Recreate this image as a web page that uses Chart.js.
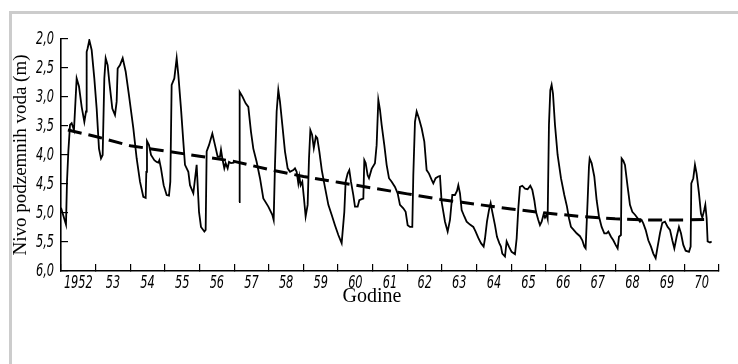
<!DOCTYPE html>
<html><head><meta charset="utf-8">
<script src="https://cdn.jsdelivr.net/npm/chart.js@4.4.1/dist/chart.umd.min.js"></script>
<style>
html,body{margin:0;padding:0;background:#fff;width:738px;height:364px;overflow:hidden}
#frame{position:absolute;left:9px;top:11px;width:740px;height:360px;border-top:3px solid #cccccc;border-left:3px solid #cccccc;}
#c{position:absolute;left:0;top:0}
</style></head><body>
<div id="frame"></div>
<canvas id="c" width="738" height="364"></canvas>
<script>
const yearLabels = ['1952','53','54','55','56','57','58','59','60','61','62','63','64','65','66','67','68','69','70'];
const levelTicks = [2.0,2.5,3.0,3.5,4.0,4.5,5.0,5.5,6.0];
const levelLabels = ['2,0','2,5','3,0','3,5','4,0','4,5','5,0','5,5','6,0'];

const years = [
1952.000,1952.144,1952.173,1952.212,1952.260,1952.308,1952.375,1952.452,1952.520,1952.597,1952.674,1952.722,1952.741,1952.770,1952.818,1952.885,1952.962,
1953.030,1953.097,1953.155,1953.203,1953.251,1953.290,1953.347,1953.395,1953.482,1953.559,1953.607,1953.636,1953.704,1953.781,1953.867,1953.963,
1954.089,1954.185,1954.281,1954.377,1954.445,1954.464,1954.483,1954.541,1954.599,1954.695,1954.762,1954.810,1954.839,1954.887,1954.964,
1955.051,1955.118,1955.157,1955.195,1955.272,1955.340,1955.388,1955.465,1955.532,1955.580,1955.677,1955.725,1955.821,1955.917,1955.985,
1956.042,1956.139,1956.177,1956.206,1956.273,1956.370,1956.447,1956.524,1956.591,1956.620,1956.659,1956.716,1956.755,1956.812,1956.851,1956.909,
1957.005,1957.070,1957.140,1957.159,1957.236,1957.332,1957.409,1957.486,1957.553,1957.650,1957.746,1957.842,1957.987,
1958.102,1958.141,1958.179,1958.227,1958.275,1958.323,1958.391,1958.468,1958.545,1958.612,1958.708,1958.756,1958.805,1958.853,1958.882,1958.920,1958.968,
1959.016,1959.064,1959.122,1959.161,1959.200,1959.250,1959.300,1959.360,1959.400,1959.460,1959.530,1959.620,1959.720,1959.815,1959.911,
1960.008,1960.104,1960.181,1960.219,1960.277,1960.325,1960.373,1960.441,1960.489,1960.566,1960.614,1960.681,1960.730,1960.758,1960.797,1960.855,1960.893,1960.970,
1961.066,1961.114,1961.163,1961.211,1961.259,1961.336,1961.403,1961.471,1961.548,1961.644,1961.721,1961.788,1961.885,1961.952,
1962.010,1962.077,1962.144,1962.173,1962.221,1962.270,1962.337,1962.414,1962.491,1962.558,1962.626,1962.703,1962.751,1962.818,1962.895,1962.943,1962.991,
1963.040,1963.088,1963.165,1963.232,1963.299,1963.376,1963.434,1963.473,1963.521,1963.569,1963.646,1963.713,1963.810,1963.906,1963.973,
1964.050,1964.127,1964.204,1964.243,1964.300,1964.358,1964.406,1964.454,1964.531,1964.589,1964.656,1964.704,1964.743,1964.820,1964.868,1964.935,
1965.012,1965.109,1965.157,1965.205,1965.253,1965.320,1965.397,1965.474,1965.551,1965.609,1965.667,1965.715,1965.782,1965.830,1965.879,1965.936,1965.975,
1966.023,1966.052,1966.090,1966.129,1966.167,1966.206,1966.264,1966.340,1966.437,1966.533,1966.610,1966.668,1966.726,1966.803,1966.889,1966.985,
1967.053,1967.111,1967.149,1967.207,1967.245,1967.265,1967.322,1967.399,1967.467,1967.534,1967.611,1967.688,1967.756,1967.804,1967.881,1967.948,
1968.015,1968.073,1968.112,1968.169,1968.189,1968.237,1968.285,1968.362,1968.429,1968.497,1968.574,1968.651,1968.718,1968.766,1968.814,1968.882,1968.959,
1969.036,1969.103,1969.171,1969.228,1969.296,1969.363,1969.440,1969.517,1969.585,1969.652,1969.710,1969.777,1969.844,1969.902,1969.969,
1970.037,1970.133,1970.181,1970.200,1970.258,1970.306,1970.354,1970.422,1970.479,1970.518,1970.576,1970.605,1970.643,1970.672,1970.739,1970.787
];
const levels = [
4.91,5.20,4.46,3.94,3.48,3.45,3.57,2.68,2.82,3.17,3.43,3.25,2.22,2.16,2.02,2.19,2.68,
3.20,3.89,4.06,4.00,2.68,2.33,2.45,2.74,3.20,3.31,3.08,2.51,2.45,2.33,2.56,2.97,
3.54,4.06,4.46,4.72,4.74,4.29,3.76,3.83,4.00,4.09,4.12,4.13,4.09,4.23,4.52,
4.69,4.70,4.46,2.79,2.68,2.33,2.62,3.20,3.77,4.17,4.29,4.52,4.66,4.17,4.98,
5.24,5.32,5.29,3.94,3.83,3.63,3.83,4.03,4.03,3.91,4.06,4.23,4.14,4.23,4.12,4.14,
4.13,null,4.81,2.91,2.99,3.11,3.17,3.60,3.89,4.12,4.40,4.75,4.89,
5.03,5.12,4.17,3.25,2.88,3.08,3.48,3.94,4.23,4.29,4.26,4.23,4.29,4.49,4.37,4.52,4.46,
4.75,5.06,4.86,4.06,3.57,3.65,3.88,3.68,3.71,3.94,4.26,4.55,4.86,5.03,5.21,
5.38,5.52,4.98,4.46,4.32,4.26,4.46,4.69,4.89,4.89,4.78,4.76,4.75,4.09,4.14,4.35,4.40,4.24,
4.14,3.83,3.05,3.22,3.48,3.83,4.17,4.40,4.46,4.55,4.66,4.86,4.92,4.98,
5.21,5.24,5.24,4.35,3.43,3.25,3.37,3.54,3.77,4.26,4.32,4.43,4.49,4.40,4.37,4.36,4.81,
4.98,5.15,5.32,5.12,4.69,4.69,4.62,4.52,4.66,4.95,5.06,5.15,5.20,5.24,5.32,
5.43,5.52,5.58,5.44,5.15,4.95,4.83,4.98,5.21,5.41,5.52,5.58,5.70,5.75,5.49,5.58,
5.67,5.71,5.44,4.92,4.55,4.53,4.58,4.59,4.53,4.60,4.78,4.98,5.12,5.21,5.15,5.02,5.08,
5.03,5.10,3.48,2.88,2.79,2.94,3.48,4.00,4.40,4.69,4.89,5.09,5.24,5.29,5.35,5.40,
5.47,5.58,5.61,4.78,4.20,4.06,4.14,4.37,4.78,5.06,5.24,5.35,5.35,5.32,5.41,5.47,
5.55,5.61,5.41,5.38,4.06,4.10,4.17,4.55,4.86,4.98,5.03,5.09,5.15,5.12,5.18,5.29,5.47,
5.58,5.70,5.78,5.58,5.35,5.17,5.15,5.24,5.29,5.47,5.61,5.41,5.24,5.35,5.55,
5.65,5.67,5.58,4.49,4.40,4.17,4.32,4.66,5.01,5.08,4.94,4.86,5.09,5.49,5.51,5.49
];
const trendYears = [1952.2,1953,1954,1955,1956,1957,1958,1959,1960,1961,1962,1963,1964,1965,1966,1967,1968,1969,1970,1970.6];
const trendLevels = [3.57,3.68,3.84,3.93,4.02,4.11,4.25,4.37,4.47,4.57,4.67,4.77,4.85,4.93,5.00,5.06,5.10,5.12,5.12,5.11];

const xTitle = 'Godine';
const yTitle = 'Nivo podzemnih voda (m)';

// Tick labels in a narrow slanted lettering: drawn at the library's tick positions, squeezed horizontally
const narrowLabels = {
  id:'narrowLabels',
  afterDraw(chart){
    const {ctx, scales:{x, y}} = chart;
    ctx.save();
    ctx.fillStyle = '#000';
    ctx.font = "italic 18px 'DejaVu Sans Condensed','DejaVu Sans',sans-serif";
    ctx.textBaseline = 'middle';
    ctx.textAlign = 'right';
    levelTicks.forEach((v, i) => {
      ctx.save(); ctx.translate(y.right - 7, y.getPixelForValue(v)); ctx.scale(0.7, 1);
      ctx.fillText(levelLabels[i], 0, 0); ctx.restore();
    });
    ctx.textAlign = 'center';
    yearLabels.forEach((lab, i) => {
      ctx.save(); ctx.translate(x.getPixelForValue(1952.5 + i), x.top + 12); ctx.scale(0.7, 1);
      ctx.fillText(lab, 0, 0); ctx.restore();
    });
    ctx.font = "20px 'Liberation Serif','Times New Roman',serif";
    ctx.fillText(xTitle, 372, 297);
    ctx.restore();
  }
};

new Chart(document.getElementById('c'), {
  type:'line',
  data:{datasets:[
    {data: years.map((x,i)=>({x:x, y:levels[i]})), borderColor:'#000', borderWidth:1.8, pointRadius:0, tension:0, spanGaps:false, fill:false},
    {data: trendYears.map((x,i)=>({x:x, y:trendLevels[i]})), borderColor:'#000', borderWidth:3, borderDash:[14,7], pointRadius:0, tension:0, fill:false}
  ]},
  options:{
    responsive:false, animation:false, devicePixelRatio:1,
    layout:{padding:{left:0, top:39, right:19, bottom:0}},
    plugins:{legend:{display:false}, tooltip:{enabled:false}},
    scales:{
      x:{type:'linear', position:'bottom', min:1952, max:1971,
        afterBuildTicks: s => { s.ticks = yearLabels.map((l,i)=>({value:1952+i})).concat([{value:1971}]); },
        afterFit: s => { s.height = 93; },
        ticks:{display:false},
        grid:{drawOnChartArea:false, drawTicks:true, tickLength:-7, lineWidth:1.2, color:'#000'},
        border:{display:true, color:'#000', width:1.6},
        title:{display:false}
      },
      y:{type:'linear', position:'left', min:2, max:6, reverse:true,
        afterBuildTicks: s => { s.ticks = levelTicks.map(v=>({value:v})); },
        afterFit: s => { s.width = 61; },
        ticks:{display:false},
        grid:{drawOnChartArea:false, drawTicks:true, tickLength:-7, lineWidth:1.2, color:'#000'},
        border:{display:true, color:'#000', width:1.6},
        title:{display:true, text:yTitle, color:'#000', font:{family:"'Liberation Serif','Times New Roman',serif", size:19}, padding:{top:10, bottom:0}}
      }
    }
  },
  plugins:[narrowLabels]
});
</script>
</body></html>
